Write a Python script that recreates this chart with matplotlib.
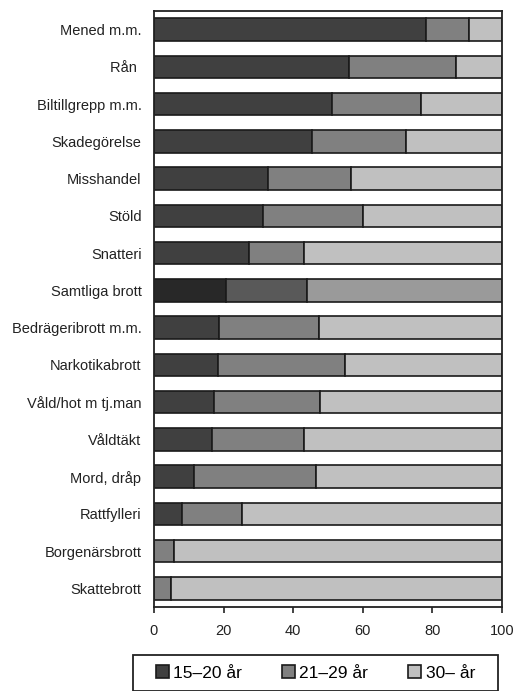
import matplotlib
matplotlib.use("Agg")
import matplotlib.pyplot as plt
from matplotlib.patches import Patch, Rectangle
import numpy as np

plt.rcParams['font.family'] = ['Liberation Sans', 'DejaVu Sans']

categories = ["Mened m.m.", "Rån ", "Biltillgrepp m.m.", "Skadegörelse", "Misshandel",
              "Stöld", "Snatteri", "Samtliga brott", "Bedrägeribrott m.m.", "Narkotikabrott",
              "Våld/hot m tj.man", "Våldtäkt", "Mord, dråp", "Rattfylleri",
              "Borgenärsbrott", "Skattebrott"]
age_15_20 = [78.2, 56.1, 51.2, 45.4, 32.7, 31.4, 27.2, 20.8, 18.8, 18.5, 17.3, 16.6, 11.6, 8.1, 0.0, 0.0]
age_21_29 = [12.3, 30.6, 25.6, 27.1, 23.8, 28.8, 15.8, 23.2, 28.7, 36.4, 30.3, 26.5, 35.0, 17.2, 5.8, 5.0]
age_30 = [round(100 - a - b, 1) for a, b in zip(age_15_20, age_21_29)]
legend_labels = ["15–20 år", "21–29 år", "30– år"]
x_ticks = [0, 20, 40, 60, 80, 100]

colors = ["#404040", "#808080", "#c0c0c0"]
colors_total = ["#282828", "#595959", "#9a9a9a"]

W, H = 518, 691
fig = plt.figure(figsize=(W/100, H/100), dpi=100)
ax = fig.add_axes([154/W, 1 - 607/H, (502-154)/W, (607-11)/H])

y = np.arange(len(categories))
series = [age_15_20, age_21_29, age_30]
left = np.zeros(len(categories))
for k, vals in enumerate(series):
    vals = np.array(vals)
    cols = [colors_total[k] if c == "Samtliga brott" else colors[k] for c in categories]
    ax.barh(y, vals, left=left, height=0.6, color=cols, edgecolor="#1a1a1a", linewidth=1.2)
    left += vals

ax.set_ylim(len(categories) - 0.5, -0.5)
ax.set_xlim(0, 100)
ax.set_yticks(y)
ax.set_yticklabels(categories, fontsize=10.5, color="#222222")
ax.set_xticks(x_ticks)
ax.set_xticklabels([str(t) for t in x_ticks], fontsize=10.5, color="#222222")
ax.tick_params(axis='y', length=0, pad=9)
ax.tick_params(axis='x', length=4, width=1.2, color="#222222", pad=8)
for s in ax.spines.values():
    s.set_color("#222222")
    s.set_linewidth(1.3)

# legend frame
fig.add_artist(Rectangle((133/W, 0.0), (498-133)/W, (691-655)/H,
                         transform=fig.transFigure, facecolor="white",
                         edgecolor="#222222", linewidth=1.3))

handles = [Patch(facecolor=c, edgecolor="#1a1a1a", linewidth=1.2) for c in colors]
leg = fig.legend(handles, legend_labels, loc="center", ncol=3,
                 bbox_to_anchor=(315.5/W, 1 - 673/H), fontsize=12.5,
                 frameon=False,
                 handlelength=0.75, handleheight=0.75, handletextpad=0.25,
                 columnspacing=2.3, borderpad=0.3)

fig.savefig("out.png", dpi=100)
